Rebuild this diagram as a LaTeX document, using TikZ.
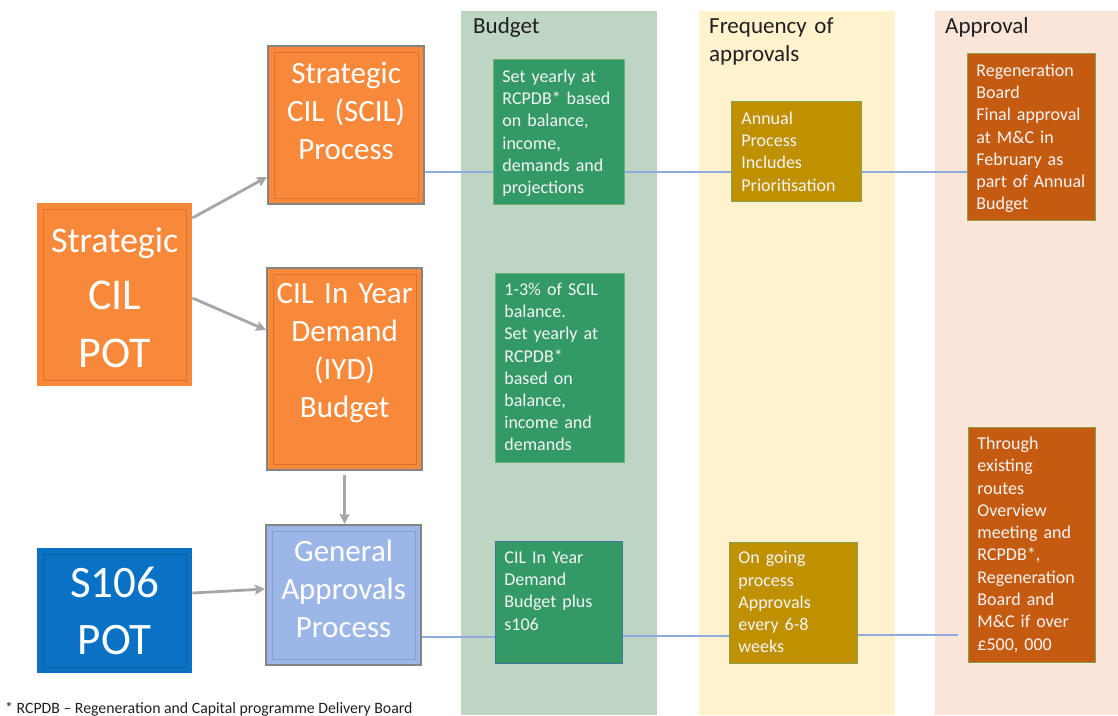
\documentclass[tikz,border=0pt]{standalone}
\usepackage{fontspec}
\setmainfont{Carlito}
\usetikzlibrary{arrows.meta}
\definecolor{colbudget}{HTML}{BFD5C3}
\definecolor{colfreq}{HTML}{FFF2CC}
\definecolor{colappr}{HTML}{FBE4D8}
\definecolor{orangebox}{HTML}{F8893B}
\definecolor{orangebevel}{HTML}{DC7230}
\definecolor{bluebox}{HTML}{0A72C4}
\definecolor{bluebevel}{HTML}{0A5EA6}
\definecolor{lightbluebox}{HTML}{9DB6E8}
\definecolor{lightbluebevel}{HTML}{889FD0}
\definecolor{boxgray}{HTML}{848484}
\definecolor{greenbox}{HTML}{339966}
\definecolor{greenedge}{HTML}{77AE77}
\definecolor{greenedgeb}{HTML}{45739E}
\definecolor{goldbox}{HTML}{BF9000}
\definecolor{rustbox}{HTML}{C55A11}
\definecolor{oliveedge}{HTML}{86A050}
\definecolor{linkblue}{HTML}{8FAADC}
\definecolor{arrowgray}{HTML}{A6A6A6}
\definecolor{headtext}{HTML}{1F1F1F}
\tikzset{
  bevel/.style={path picture={\draw[#1,line width=1.1pt]
      ([xshift=6pt,yshift=-6pt]path picture bounding box.north west) rectangle
      ([xshift=-6pt,yshift=6pt]path picture bounding box.south east);}},
  bigbox/.style={anchor=north west, inner sep=0pt, align=center, text=white, text width=150pt},
  grayedge/.style={draw=boxgray, line width=2.2pt},
  smallbox/.style 2 args={fill=#1, draw=#2, line width=0.8pt, anchor=north west,
      inner xsep=9pt, inner ysep=0pt, align=left, text=white!96!black,
      font=\fontsize{18}{22.2}\selectfont, text height=13pt},
  header/.style={anchor=base west, inner sep=0pt, align=left, text=headtext, text width=170pt,
      font=\fontsize{23}{28}\selectfont},
  arrowlink/.style={draw=arrowgray, line width=2.8pt,
      -{Stealth[length=10pt,width=10pt,inset=1.5pt]}},
  flowlink/.style={draw=linkblue, line width=1.2pt}
}
\begin{document}
\begin{tikzpicture}[x=1pt,y=-1pt]
\useasboundingbox (0,0) rectangle (1118,715);
% columns
\fill[colbudget] (461,11) rectangle (657,715);
\fill[colfreq] (699,11) rectangle (895,715);
\fill[colappr] (935,11) rectangle (1118,715);
% headers
\node[header] (hbudget) at (473,33) {Budget};
\node[header] (hfreq) at (709,33) {Frequency of\\approvals};
\node[header] (happr) at (945,33) {Approval};
% left boxes
\node[bigbox, fill=orangebox, bevel=orangebevel, minimum width=155pt, minimum height=183pt,
      font=\fontsize{44}{57.5}\selectfont, text height=24pt, text depth=109pt]
      (spot) at (37,203) {{\fontsize{36}{40}\selectfont Strategic}\\CIL\\POT};
\node[bigbox, grayedge, fill=orangebox, bevel=orangebevel, minimum width=156pt, minimum height=158pt,
      font=\fontsize{31}{38}\selectfont, text height=22pt, text depth=106pt]
      (scil) at (267,45) {Strategic\\CIL (SCIL)\\Process};
\node[bigbox, grayedge, fill=orangebox, bevel=orangebevel, minimum width=155pt, minimum height=202pt,
      font=\fontsize{31}{38}\selectfont, text height=22pt, text depth=154pt]
      (iyd) at (266,267) {CIL In Year\\Demand\\(IYD)\\Budget};
\node[bigbox, grayedge, fill=lightbluebox, bevel=lightbluebevel, minimum width=155pt, minimum height=140pt,
      font=\fontsize{31}{38}\selectfont, text height=22pt, text depth=90pt]
      (gap) at (265,524) {General\\Approvals\\Process};
\node[bigbox, fill=bluebox, bevel=bluebevel, minimum width=155pt, minimum height=125pt,
      font=\fontsize{45}{57}\selectfont, text height=29pt, text depth=56pt]
      (s106) at (37,548) {S106\\POT};
% budget boxes
\node[smallbox={greenbox}{greenedge}, minimum width=131pt, minimum height=145pt, text width=113pt,
      text depth=112pt] (g1) at (493,59)
      {Set yearly at\\RCPDB* based\\on balance,\\income,\\demands and\\projections};
\node[smallbox={greenbox}{greenedge}, minimum width=129pt, minimum height=189pt, text width=111pt,
      text depth=158pt] (g2) at (495,273)
      {1-3\% of SCIL\\balance.\\Set yearly at\\RCPDB*\\based on\\balance,\\income and\\demands};
\node[smallbox={greenbox}{greenedgeb}, minimum width=127pt, minimum height=122pt, text width=109pt,
      text depth=91pt] (g3) at (495,541)
      {CIL In Year\\Demand\\Budget plus\\s106};
% frequency boxes
\node[smallbox={goldbox}{oliveedge}, minimum width=130pt, minimum height=100pt, text width=110pt,
      inner xsep=10pt, text depth=67pt] (au1) at (731,101)
      {Annual\\Process\\Includes\\Prioritisation};
\node[smallbox={goldbox}{oliveedge}, minimum width=128pt, minimum height=121pt, text width=110pt,
      text depth=91pt] (au2) at (729,542)
      {On going\\process\\Approvals\\every 6-8\\weeks};
% approval boxes
\node[smallbox={rustbox}{oliveedge}, minimum width=128pt, minimum height=167pt, text width=110pt,
      text depth=134pt] (r1) at (967,53)
      {Regeneration\\Board\\Final approval\\at M\&C in\\February as\\part of Annual\\Budget};
\node[smallbox={rustbox}{oliveedge}, minimum width=127pt, minimum height=235pt, text width=109pt,
      font=\fontsize{18}{22.3}\selectfont, text depth=204pt] (r2) at (968,427)
      {Through\\existing\\routes\\Overview\\meeting and\\RCPDB*,\\Regeneration\\Board and\\M\&C if over\\£500, 000};
% footnote
\node[anchor=base west, inner sep=0pt, text=headtext, font=\fontsize{15.8}{18}\selectfont]
      (foot) at (5,713) {* RCPDB -- Regeneration and Capital programme Delivery Board};
% arrows
\draw[arrowlink] (spot.east |- 0,218) -- (scil.west |- 0,177);
\draw[arrowlink] (spot.east |- 0,298) -- (iyd.west |- 0,330);
\draw[arrowlink] ([yshift=-4pt]iyd.south) -- (iyd.south |- gap.north);
\draw[arrowlink] (s106.east |- 0,593) -- (gap.west |- 0,589);
% flow lines
\draw[flowlink] (scil.east |- 0,172) -- (g1.west |- 0,172);
\draw[flowlink] (g1.east |- 0,172) -- (au1.west |- 0,172);
\draw[flowlink] (au1.east |- 0,172) -- (r1.west |- 0,172);
\coordinate (lowend) at (958,635);
\draw[flowlink] (gap.east |- 0,637) -- (g3.west |- 0,637);
\draw[flowlink] (g3.east |- 0,636) -- (au2.west |- 0,636);
\draw[flowlink] (au2.east |- 0,635) -- (lowend);
\end{tikzpicture}
\end{document}
